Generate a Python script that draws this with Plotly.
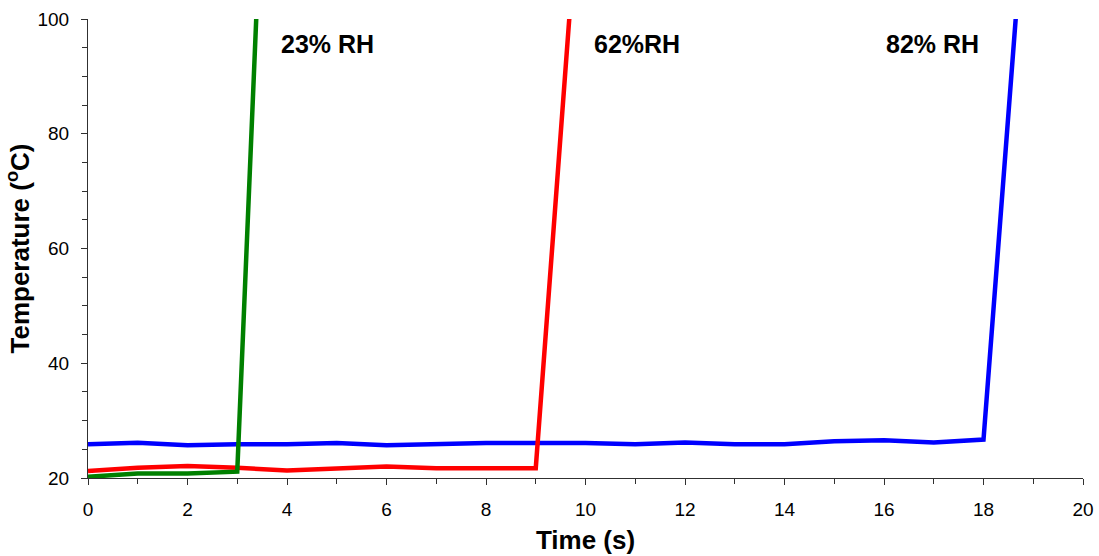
import plotly.graph_objects as go

time_23 = [0, 1, 2, 3, 4]
temp_23 = [20.2, 20.8, 20.8, 21.1, 228]

time_62 = [0, 1, 2, 3, 4, 5, 6, 7, 8, 9, 10]
temp_62 = [21.2, 21.8, 22.1, 21.8, 21.3, 21.7, 22.0, 21.7, 21.7, 21.7, 138]

time_82 = [0, 1, 2, 3, 4, 5, 6, 7, 8, 9, 10, 11, 12, 13, 14, 15, 16, 17, 18, 19]
temp_82 = [25.9, 26.15, 25.7, 25.9, 25.9, 26.1, 25.7, 25.9, 26.1, 26.1, 26.1, 25.9, 26.2, 25.9, 25.9, 26.4, 26.6, 26.2, 26.7, 140]

labels = ["23% RH", "62%RH", "82% RH"]
label_x = [4.82, 11.03, 16.97]
label_y = 95.6

FONT = "Liberation Sans, Arial"

fig = go.Figure()
for x, y, c in [(time_82, temp_82, "#0000ff"), (time_62, temp_62, "#ff0000"), (time_23, temp_23, "#008000")]:
    fig.add_trace(go.Scatter(x=x, y=y, mode="lines", line=dict(color=c, width=4.5), showlegend=False))

for t, lx in zip(labels, label_x):
    fig.add_annotation(x=lx, y=label_y, text="<b>" + t + "</b>", showarrow=False, xanchor="center", yanchor="middle",
                       font=dict(family=FONT, size=25, color="black"))

axis_common = dict(showgrid=False, zeroline=False, showline=True, linecolor="#303030", linewidth=1,
                   ticks="outside", ticklen=6, tickcolor="#303030", automargin=False,
                   ticklabelstandoff=8,
                   tickfont=dict(family=FONT, size=19, color="black"))

fig.update_xaxes(range=[0, 20], dtick=2, tick0=0,
                 minor=dict(dtick=1, ticks="outside", ticklen=5, tickcolor="#303030"),
                 title=dict(text="<b>Time (s)</b>", font=dict(family=FONT, size=26, color="black"), standoff=12),
                 **axis_common)
fig.update_yaxes(range=[20, 100], dtick=20, tick0=20,
                 minor=dict(dtick=5, ticks="outside", ticklen=5, tickcolor="#303030"),
                 title=dict(text="<b>Temperature (<sup>o</sup>C)</b>", font=dict(family=FONT, size=26, color="black"), standoff=0),
                 **axis_common)

fig.update_layout(width=1099, height=556, margin=dict(l=88, r=16, t=19, b=78, autoexpand=False),
                  plot_bgcolor="white", paper_bgcolor="white")
fig.write_html("out.html", config={"displayModeBar": False},
               post_script="document.body.style.margin='0';document.body.style.overflow='hidden';")
